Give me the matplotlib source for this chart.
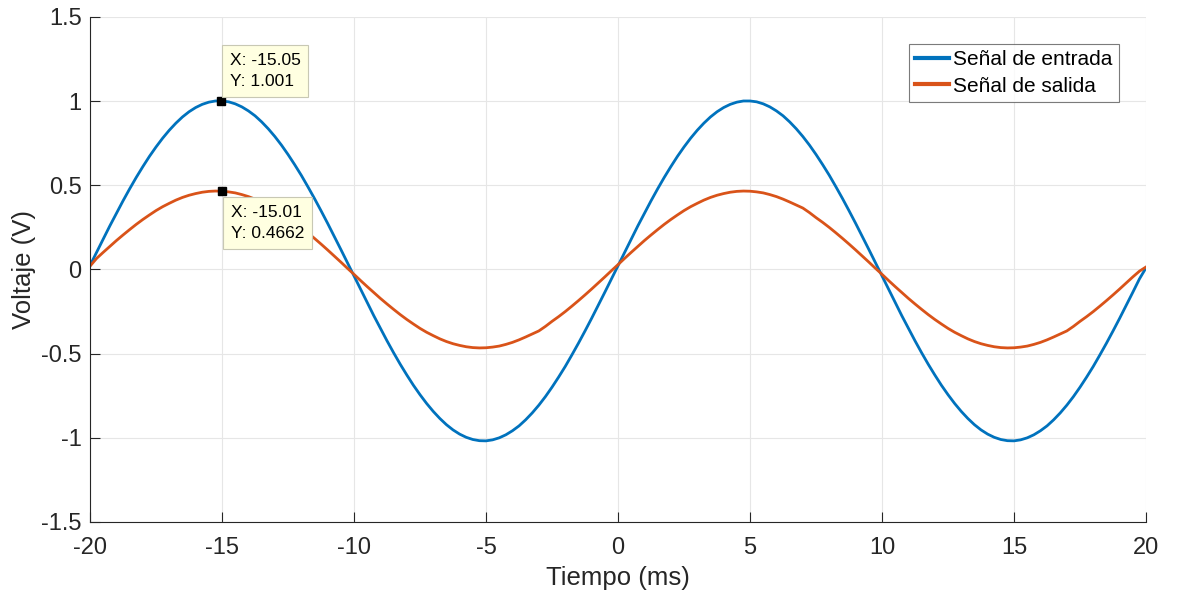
import matplotlib

matplotlib.use("Agg")
import matplotlib.pyplot as plt
import numpy as np

plt.rcParams["font.family"] = ["Liberation Sans", "DejaVu Sans"]

# tiempo en ms, paso de 0.25 ms
tiempo = np.linspace(-20, 20, 161)

entrada = [
    0.024, 0.103, 0.181, 0.259, 0.334, 0.408, 0.479, 0.547, 0.611, 0.672,
    0.728, 0.780, 0.827, 0.869, 0.906, 0.937, 0.962, 0.981, 0.994, 1.001,
    1.001, 0.996, 0.984, 0.966, 0.942, 0.913, 0.877, 0.836, 0.790, 0.739,
    0.683, 0.623, 0.560, 0.492, 0.422, 0.349, 0.274, 0.197, 0.119, 0.040,
    -0.040, -0.119, -0.197, -0.275, -0.350, -0.424, -0.495, -0.563, -0.627, -0.688,
    -0.744, -0.796, -0.843, -0.885, -0.922, -0.953, -0.978, -0.997, -1.010, -1.017,
    -1.018, -1.012, -1.000, -0.982, -0.958, -0.929, -0.893, -0.852, -0.806, -0.755,
    -0.699, -0.639, -0.576, -0.508, -0.438, -0.365, -0.290, -0.213, -0.135, -0.056,
    0.024, 0.103, 0.181, 0.259, 0.334, 0.408, 0.479, 0.547, 0.611, 0.672,
    0.728, 0.780, 0.827, 0.869, 0.906, 0.937, 0.962, 0.981, 0.994, 1.001,
    1.001, 0.996, 0.984, 0.966, 0.942, 0.913, 0.877, 0.836, 0.790, 0.739,
    0.683, 0.623, 0.560, 0.492, 0.422, 0.349, 0.274, 0.197, 0.119, 0.040,
    -0.040, -0.119, -0.197, -0.275, -0.350, -0.424, -0.495, -0.563, -0.627, -0.688,
    -0.744, -0.796, -0.843, -0.885, -0.922, -0.953, -0.978, -0.997, -1.010, -1.017,
    -1.018, -1.012, -1.000, -0.982, -0.958, -0.929, -0.893, -0.852, -0.806, -0.755,
    -0.699, -0.639, -0.576, -0.508, -0.438, -0.365, -0.290, -0.213, -0.135, -0.056,
    0.010,
]

salida = [
    0.020, 0.066, 0.102, 0.137, 0.172, 0.205, 0.237, 0.268, 0.297, 0.324,
    0.350, 0.373, 0.393, 0.412, 0.428, 0.441, 0.451, 0.459, 0.464, 0.466,
    0.465, 0.461, 0.455, 0.445, 0.433, 0.418, 0.401, 0.381, 0.359, 0.335,
    0.308, 0.280, 0.250, 0.218, 0.185, 0.151, 0.116, 0.080, 0.044, 0.007,
    -0.029, -0.066, -0.102, -0.137, -0.172, -0.205, -0.237, -0.268, -0.297, -0.324,
    -0.350, -0.373, -0.393, -0.412, -0.428, -0.441, -0.451, -0.459, -0.464, -0.466,
    -0.465, -0.461, -0.455, -0.445, -0.433, -0.418, -0.401, -0.383, -0.365, -0.338,
    -0.308, -0.280, -0.250, -0.218, -0.185, -0.151, -0.116, -0.080, -0.044, -0.007,
    0.029, 0.066, 0.102, 0.137, 0.172, 0.205, 0.237, 0.268, 0.297, 0.324,
    0.350, 0.373, 0.393, 0.412, 0.428, 0.441, 0.451, 0.459, 0.464, 0.466,
    0.465, 0.461, 0.455, 0.445, 0.433, 0.418, 0.401, 0.383, 0.365, 0.338,
    0.308, 0.280, 0.250, 0.218, 0.185, 0.151, 0.116, 0.080, 0.044, 0.007,
    -0.029, -0.066, -0.102, -0.137, -0.172, -0.205, -0.237, -0.268, -0.297, -0.324,
    -0.350, -0.373, -0.393, -0.412, -0.428, -0.441, -0.451, -0.459, -0.464, -0.466,
    -0.465, -0.461, -0.455, -0.445, -0.433, -0.418, -0.401, -0.383, -0.365, -0.338,
    -0.308, -0.280, -0.250, -0.218, -0.185, -0.151, -0.116, -0.080, -0.044, -0.010,
    0.015,
]

x_ticks = [-20, -15, -10, -5, 0, 5, 10, 15, 20]
y_ticks = [-1.5, -1, -0.5, 0, 0.5, 1, 1.5]
y_tick_labels = ["-1.5", "-1", "-0.5", "0", "0.5", "1", "1.5"]

# datatips (x, y)
tip_entrada = (-15.05, 1.001)
tip_salida = (-15.01, 0.4662)

AZUL = "#0072BD"
NARANJA = "#D95319"
GRIS = "#262626"

fig = plt.figure(figsize=(11.77, 5.98), dpi=100)
ax = fig.add_axes([0.0765, 0.1271, 0.8972, 0.8445])

ax.plot(tiempo, entrada, color=AZUL, linewidth=2.0, label="Señal de entrada")
ax.plot(tiempo, salida, color=NARANJA, linewidth=2.0, label="Señal de salida")

ax.set_xlim(-20, 20)
ax.set_ylim(-1.5, 1.5)
ax.set_xticks(x_ticks)
ax.set_xticklabels([str(v) for v in x_ticks])
ax.set_yticks(y_ticks)
ax.set_yticklabels(y_tick_labels)

ax.grid(True, color="#e6e6e6", linewidth=0.8)
ax.set_axisbelow(True)
for s in ["top", "right"]:
    ax.spines[s].set_visible(False)
for s in ["left", "bottom"]:
    ax.spines[s].set_color(GRIS)
    ax.spines[s].set_linewidth(0.8)
ax.tick_params(direction="in", length=7, width=0.8, colors=GRIS,
               labelsize=17, labelcolor=GRIS)
ax.tick_params(axis="x", pad=11)
ax.tick_params(axis="y", pad=6)

ax.set_xlabel("Tiempo (ms)", fontsize=18.5, color=GRIS, labelpad=5)
ax.set_ylabel("Voltaje (V)", fontsize=18.5, color=GRIS, labelpad=4)

leg = ax.legend(loc="upper right", bbox_to_anchor=(0.974, 0.9465), fontsize=15,
                frameon=True, fancybox=False, handlelength=1.6, handletextpad=0.2,
                borderpad=0.3, labelspacing=0.35, borderaxespad=0)
leg.get_frame().set_edgecolor("#5a5a5a")
leg.get_frame().set_linewidth(0.8)
for line in leg.get_lines():
    line.set_linewidth(3)

caja = dict(boxstyle="square,pad=0.45", facecolor="#FFFFE1", edgecolor="#c8c8b4", linewidth=0.8)
for (px, py), off, va in [(tip_entrada, (9, 12), "bottom"), (tip_salida, (9, -14), "top")]:
    ax.plot([px], [py], marker="s", color="black", markersize=6, zorder=5)
    ax.annotate(f"X: {px:.2f}\nY: {py:.4g}", xy=(px, py), xytext=off,
                textcoords="offset pixels", ha="left", va=va, fontsize=12.5,
                linespacing=1.5, bbox=caja, zorder=6)

fig.savefig("out.png", dpi=100)
